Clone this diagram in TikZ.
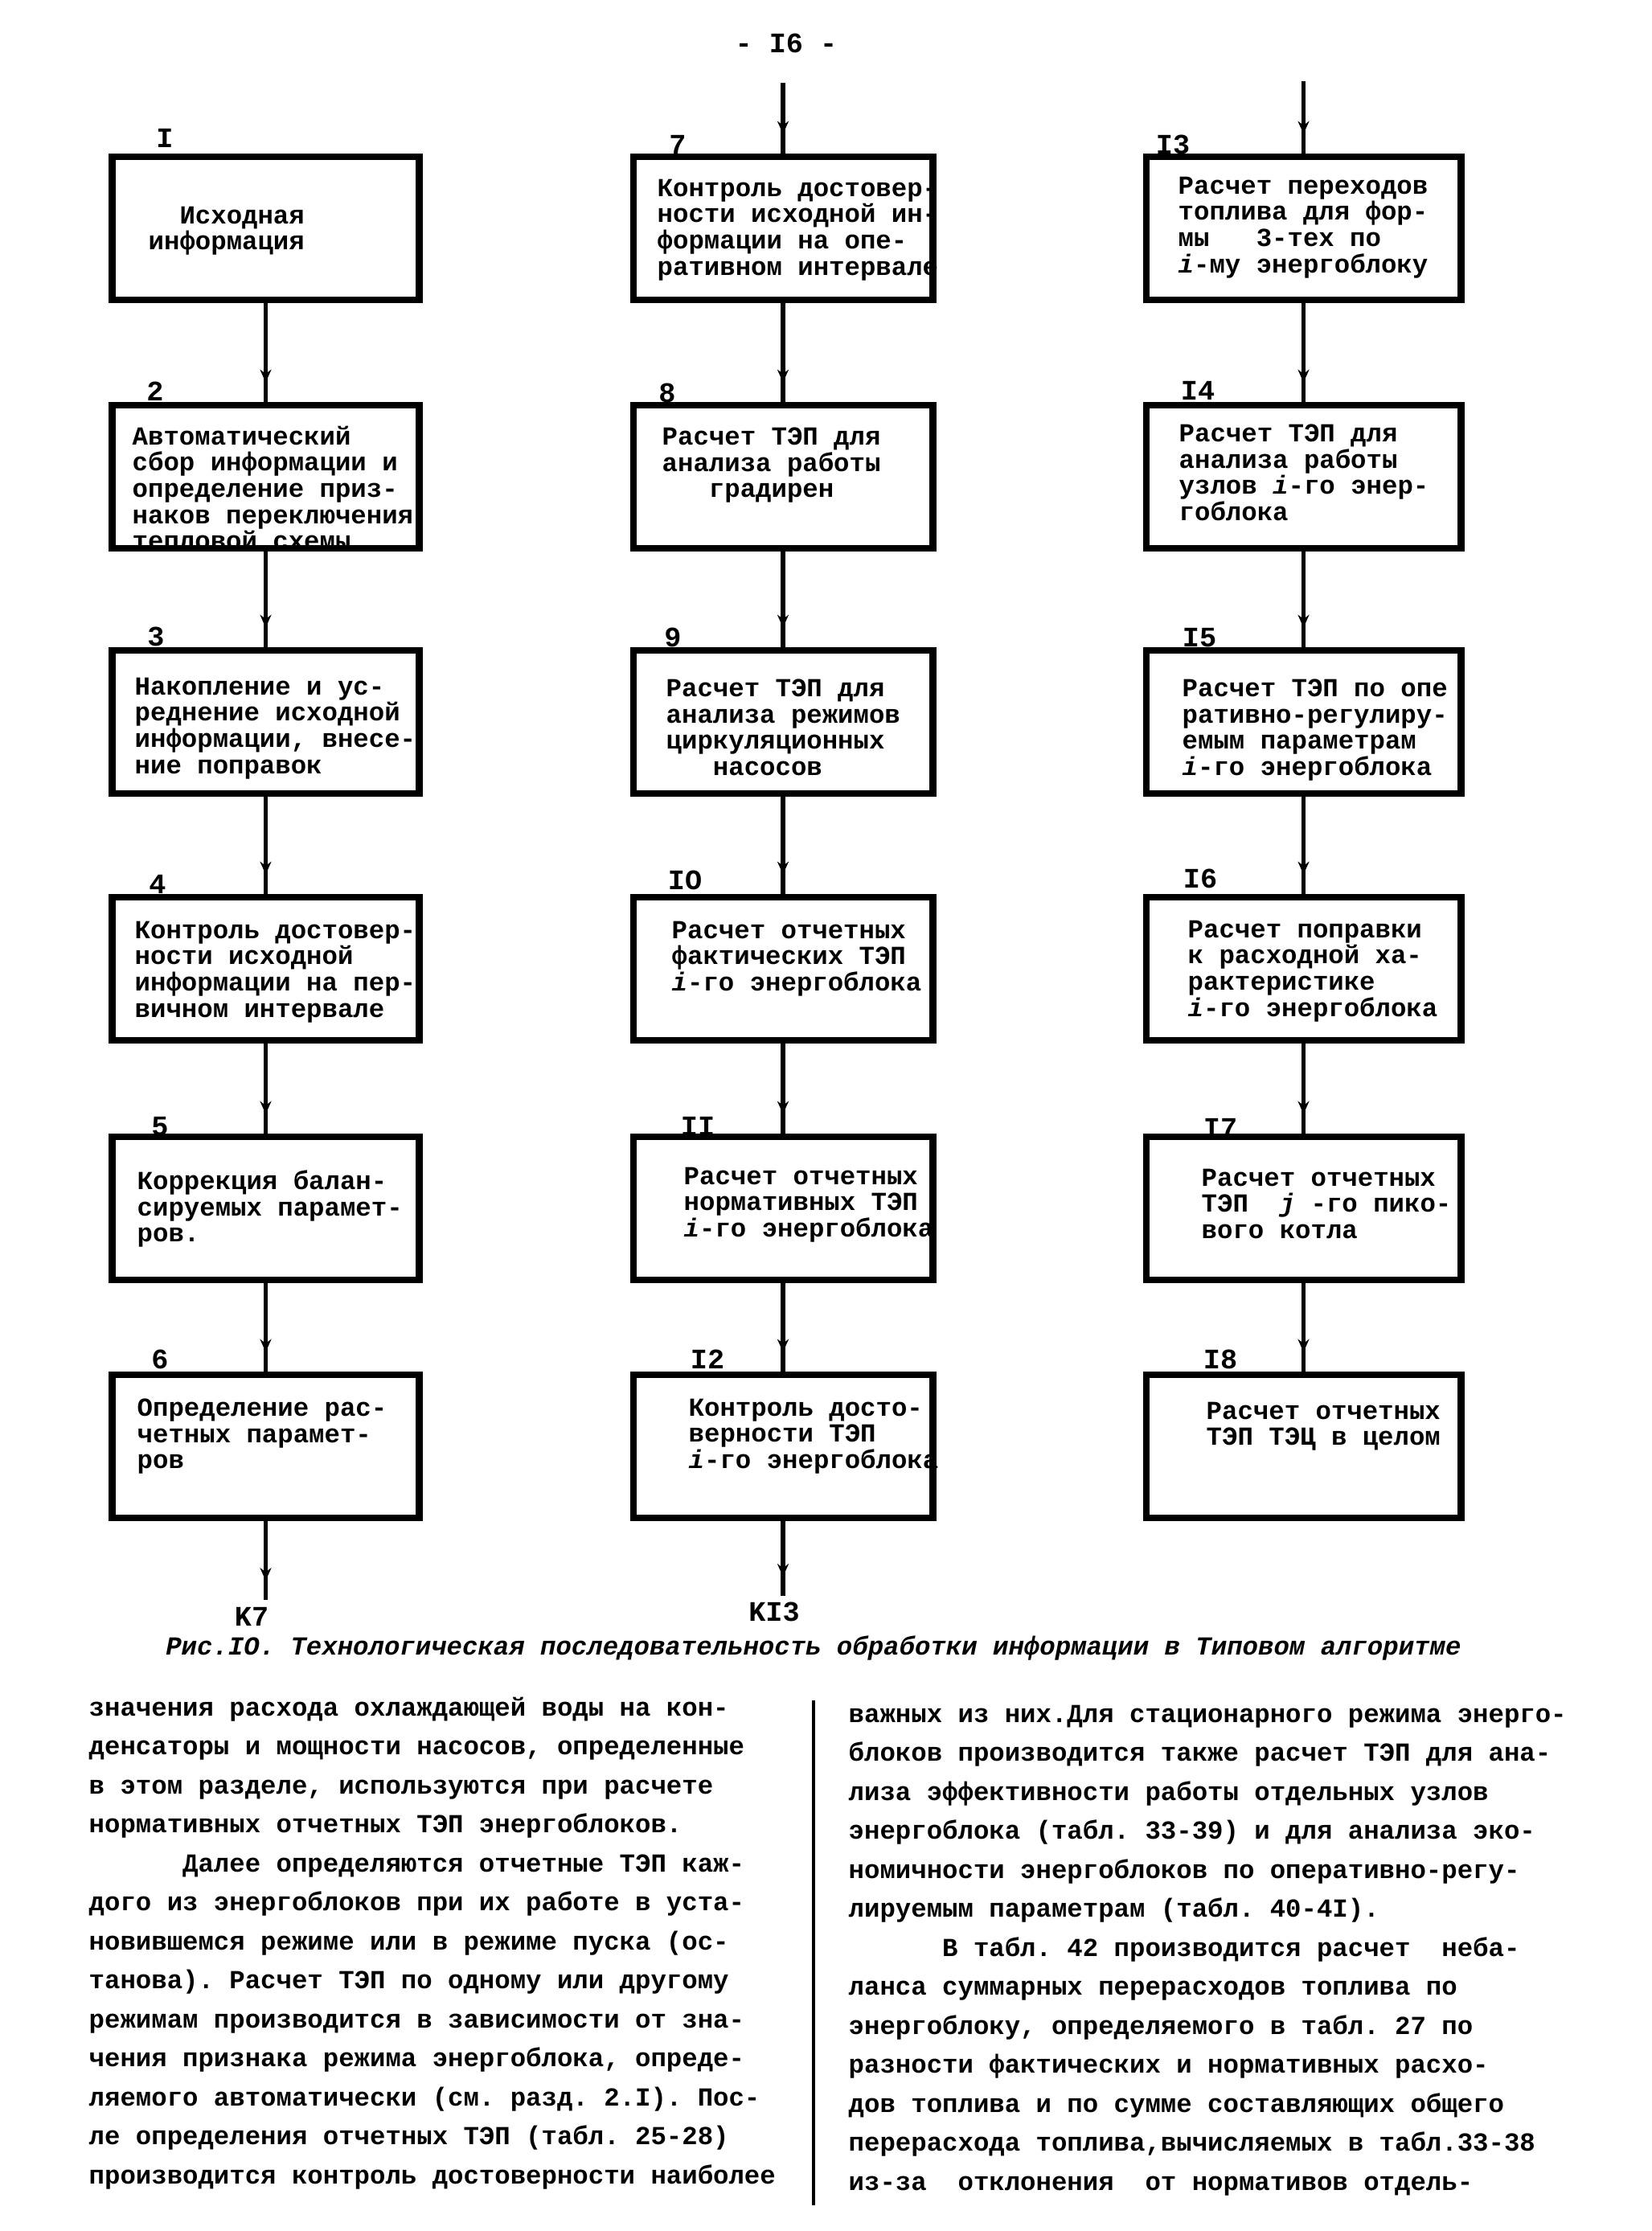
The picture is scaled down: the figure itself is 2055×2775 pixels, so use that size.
\documentclass[tikz,border=0pt]{standalone}
\usepackage{fontspec}
\setmainfont{Liberation Mono}
\usetikzlibrary{arrows.meta,decorations.markings}
\newcommand\fst{\rule{0pt}{6pt}}
\frenchspacing
\begin{document}
\begin{tikzpicture}[x=0.01cm,y=-0.01cm,
  box/.style={draw, line width=2.5pt, minimum height=1.78cm, inner sep=0pt},
  wa/.style={minimum width=3.81cm},
  wb/.style={minimum width=3.72cm},
  wc/.style={minimum width=3.91cm},
  txt/.style={anchor=north west, inner sep=0pt, align=left, font=\fontsize{9.2}{9.3}\selectfont\bfseries},
  body/.style={anchor=north west, inner sep=0pt, align=left, font=\fontsize{9.2}{13.8}\selectfont\bfseries},
  num/.style={inner sep=0pt, font=\fontsize{10}{10}\selectfont\bfseries},
  conn/.style={line width=1.5pt, postaction={decorate},
    decoration={markings, mark=at position -0.24cm with {\arrow{Stealth[length=4.5pt,width=4pt]}}}},
]
\useasboundingbox (0,0) rectangle (2055,2775);
\fill[white] (0,0) rectangle (2055,2775);

% header
\node[num] (hdr) at (978,54) {- I6 -};

% boxes
\node[box,wa] (b1) at (330.5,284) {};
\node[box,wa] (b2) at (330.5,593) {};
\node[box,wa] (b3) at (330.5,898) {};
\node[box,wa] (b4) at (330.5,1205) {};
\node[box,wa] (b5) at (330.5,1503) {};
\node[box,wa] (b6) at (330.5,1799) {};
\node[box,wb] (b7) at (974,284) {};
\node[box,wb] (b8) at (974,593) {};
\node[box,wb] (b9) at (974,898) {};
\node[box,wb] (b10) at (974,1205) {};
\node[box,wb] (b11) at (974,1503) {};
\node[box,wb] (b12) at (974,1799) {};
\node[box,wc] (b13) at (1621.5,284) {};
\node[box,wc] (b14) at (1621.5,593) {};
\node[box,wc] (b15) at (1621.5,898) {};
\node[box,wc] (b16) at (1621.5,1205) {};
\node[box,wc] (b17) at (1621.5,1503) {};
\node[box,wc] (b18) at (1621.5,1799) {};

% box texts
\node[txt] (t1) at (184,256) {\fst\hspace*{1.2em}Исходная\\информация};
\node[txt] (t2) at (164,529) {\fst Автоматический\\сбор информации и\\определение приз-\\наков переключения\\тепловой схемы};
\node[txt] (t3) at (167,842) {\fst Накопление и ус-\\реднение исходной\\информации, внесе-\\ние поправок};
\node[txt] (t4) at (167,1145) {\fst Контроль достовер-\\ности исходной\\информации на пер-\\вичном интервале};
\node[txt] (t5) at (170,1455) {\fst Коррекция балан-\\сируемых парамет-\\ров.};
\node[txt] (t6) at (170,1739) {\fst Определение рас-\\четных парамет-\\ров};
\node[txt] (t7) at (817,222) {\fst Контроль достовер-\\ности исходной ин-\\формации на опе-\\ративном интервале};
\node[txt] (t8) at (823,531) {\fst Расчет ТЭП для\\анализа работы\\\hspace*{1.8em}градирен};
\node[txt] (t9) at (828,844) {\fst Расчет ТЭП для\\анализа режимов\\циркуляционных\\\hspace*{1.8em}насосов};
\node[txt] (t10) at (835,1145) {\fst Расчет отчетных\\фактических ТЭП\\{\itshape i}-го энергоблока};
\node[txt] (t11) at (850,1451) {\fst Расчет отчетных\\нормативных ТЭП\\{\itshape i}-го энергоблока};
\node[txt] (t12) at (856,1739) {\fst Контроль досто-\\верности ТЭП\\{\itshape i}-го энергоблока};
\node[txt] (t13) at (1465,219) {\fst Расчет переходов\\топлива для фор-\\мы\hspace*{1.8em}3-тех по\\{\itshape i}-му энергоблоку};
\node[txt] (t14) at (1466,527) {\fst Расчет ТЭП для\\анализа работы\\узлов {\itshape i}-го энер-\\гоблока};
\node[txt] (t15) at (1470,844) {\fst Расчет ТЭП по опе\\ративно-регулиру-\\емым параметрам\\{\itshape i}-го энергоблока};
\node[txt] (t16) at (1477,1144) {\fst Расчет поправки\\к расходной ха-\\рактеристике\\{\itshape i}-го энергоблока};
\node[txt] (t17) at (1494,1453) {\fst Расчет отчетных\\ТЭП\ \ {\itshape j}\ -го пико-\\вого котла};
\node[txt] (t18) at (1500,1743) {\fst Расчет отчетных\\ТЭП ТЭЦ в целом};

% numbers
\node[num] (n1) at (205,172) {I};
\node[num] (n2) at (193,487) {2};
\node[num] (n3) at (194,792) {3};
\node[num] (n4) at (196,1100) {4};
\node[num] (n5) at (199,1401) {5};
\node[num] (n6) at (199,1691) {6};
\node[num] (n7) at (843,180) {7};
\node[num] (n8) at (830,489) {8};
\node[num] (n9) at (837,793) {9};
\node[num] (n10) at (852,1095) {IO};
\node[num] (n11) at (868,1401) {II};
\node[num] (n12) at (880,1691) {I2};
\node[num] (n13) at (1459,180) {I3};
\node[num] (n14) at (1490,486) {I4};
\node[num] (n15) at (1492,793) {I5};
\node[num] (n16) at (1493,1093) {I6};
\node[num] (n17) at (1518,1403) {I7};
\node[num] (n18) at (1518,1691) {I8};

% connectors
\coordinate (in7) at (974,103);
\coordinate (in13) at (1621.5,101);
\coordinate (out6) at (330.5,1990);
\coordinate (out12) at (974,1985);
\draw[conn] (in7) -- (b7.north);
\draw[conn] (in13) -- (b13.north);
\draw[conn] (b1.south) -- (b2.north);
\draw[conn] (b2.south) -- (b3.north);
\draw[conn] (b3.south) -- (b4.north);
\draw[conn] (b4.south) -- (b5.north);
\draw[conn] (b5.south) -- (b6.north);
\draw[conn] (b6.south) -- (out6);
\draw[conn] (b7.south) -- (b8.north);
\draw[conn] (b8.south) -- (b9.north);
\draw[conn] (b9.south) -- (b10.north);
\draw[conn] (b10.south) -- (b11.north);
\draw[conn] (b11.south) -- (b12.north);
\draw[conn] (b12.south) -- (out12);
\draw[conn] (b13.south) -- (b14.north);
\draw[conn] (b14.south) -- (b15.north);
\draw[conn] (b15.south) -- (b16.north);
\draw[conn] (b16.south) -- (b17.north);
\draw[conn] (b17.south) -- (b18.north);

\node[num] (k7) at (313,2011) {K7};
\node[num] (k13) at (963,2005) {KI3};

% caption
\node[inner sep=0pt, font=\fontsize{9.2}{9.3}\selectfont\bfseries\itshape] (cap) at (1012,2050)
  {Рис.IO. Технологическая последовательность обработки информации в Типовом алгоритме};

% body text
\node[body] (bl) at (110,2110) {\fst значения расхода охлаждающей воды на кон-\\
денсаторы и мощности насосов, определенные\\
в этом разделе, используются при расчете\\
нормативных отчетных ТЭП энергоблоков.\\
\hspace*{3.6em}Далее определяются отчетные ТЭП каж-\\
дого из энергоблоков при их работе в уста-\\
новившемся режиме или в режиме пуска (ос-\\
танова). Расчет ТЭП по одному или другому\\
режимам производится в зависимости от зна-\\
чения признака режима энергоблока, опреде-\\
ляемого автоматически (см. разд. 2.I). Пос-\\
ле определения отчетных ТЭП (табл. 25-28)\\
производится контроль достоверности наиболее};
\node[body] (br) at (1055,2120) {\fst важных из них.Для стационарного режима энерго-\\
блоков производится также расчет ТЭП для ана-\\
лиза эффективности работы отдельных узлов\\
энергоблока (табл. 33-39) и для анализа эко-\\
номичности энергоблоков по оперативно-регу-\\
лируемым параметрам (табл. 40-4I).\\
\hspace*{3.6em}В табл. 42 производится расчет\ \ неба-\\
ланса суммарных перерасходов топлива по\\
энергоблоку, определяемого в табл. 27 по\\
разности фактических и нормативных расхо-\\
дов топлива и по сумме составляющих общего\\
перерасхода топлива,вычисляемых в табл.33-38\\
из-за\ \ отклонения\ \ от нормативов отдель-};
\draw[line width=1.1pt] (1012,2115) -- (1012,2743);
\end{tikzpicture}
\end{document}
